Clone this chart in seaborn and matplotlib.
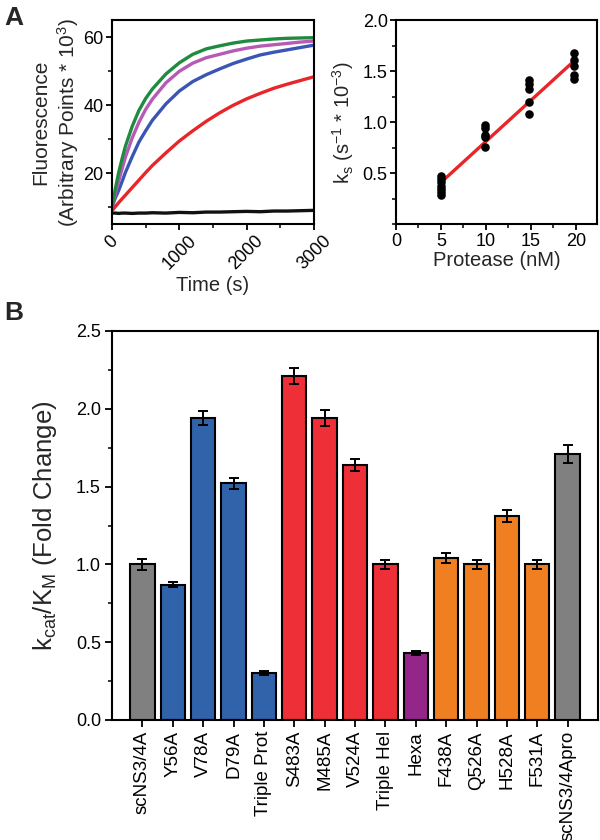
import numpy as np
import pandas as pd
import matplotlib
matplotlib.use("Agg")
import matplotlib.pyplot as plt
import seaborn as sns
from matplotlib.ticker import MultipleLocator

# ---------------- data ----------------
time_s = [0, 50, 100, 150, 200, 300, 400, 500, 600, 800, 1000, 1200, 1400,
          1600, 1800, 2000, 2200, 2400, 2600, 2800, 3000]
fluor_green = [10.2, 15.5, 20.3, 24.3, 28.0, 33.8, 38.5, 42.0, 44.8, 49.2, 52.5,
               55.0, 56.6, 57.5, 58.3, 58.9, 59.2, 59.5, 59.7, 59.8, 59.9]
fluor_purple = [10.0, 14.0, 17.8, 21.3, 24.8, 30.4, 35.0, 38.8, 41.8, 46.6, 50.0,
                52.4, 54.0, 55.0, 56.0, 56.8, 57.4, 57.8, 58.2, 58.6, 58.9]
fluor_blue = [10.0, 12.8, 15.0, 17.6, 20.3, 24.9, 29.2, 32.5, 35.6, 40.4, 44.2,
              47.0, 49.0, 50.7, 52.3, 53.6, 54.8, 55.6, 56.3, 57.0, 57.7]
fluor_red = [9.0, 10.2, 11.4, 12.5, 13.6, 15.8, 18.0, 20.2, 22.3, 26.0, 29.5,
             32.5, 35.3, 37.8, 40.0, 41.9, 43.5, 45.0, 46.2, 47.3, 48.4]
fluor_black = [8.3, 8.3, 8.2, 8.3, 8.3, 8.2, 8.3, 8.3, 8.4, 8.3, 8.5,
               8.4, 8.6, 8.6, 8.7, 8.8, 8.7, 8.9, 8.9, 9.0, 9.1]
curve_names = ["black", "red", "blue", "purple", "green"]
curve_colors = ["#111111", "#E8262A", "#3B55B5", "#B55AB5", "#1F8A40"]

protease_nM = [5]*7 + [9.9]*5 + [14.8]*5 + [19.8]*5
ks_values = [0.47, 0.44, 0.41, 0.38, 0.35, 0.32, 0.29,
             0.97, 0.94, 0.88, 0.86, 0.76,
             1.41, 1.38, 1.33, 1.20, 1.08,
             1.68, 1.61, 1.55, 1.46, 1.42]
fit_x = [5, 19.8]
fit_y = [0.41, 1.60]

mutants = ["scNS3/4A", "Y56A", "V78A", "D79A", "Triple Prot", "S483A", "M485A",
           "V524A", "Triple Hel", "Hexa", "F438A", "Q526A", "H528A", "F531A",
           "scNS3/4Apro"]
fold_change = [1.00, 0.87, 1.94, 1.52, 0.30, 2.21, 1.94, 1.64, 1.00, 0.43,
               1.04, 1.00, 1.31, 1.00, 1.71]
fold_err = [0.033, 0.015, 0.045, 0.034, 0.012, 0.05, 0.05, 0.04, 0.027, 0.012,
            0.033, 0.03, 0.04, 0.03, 0.058]
bar_colors = ["#808080", "#3163AB", "#3163AB", "#3163AB", "#3163AB",
              "#EE2F37", "#EE2F37", "#EE2F37", "#EE2F37", "#952689",
              "#F07F22", "#F07F22", "#F07F22", "#F07F22", "#808080"]

# ---------------- style ----------------
sns.set_style("ticks")
plt.rcParams["font.family"] = ["Liberation Sans", "DejaVu Sans"]
plt.rcParams["mathtext.fontset"] = "custom"
plt.rcParams["mathtext.rm"] = "Liberation Sans"
plt.rcParams["mathtext.it"] = "Liberation Sans:italic"
plt.rcParams["mathtext.bf"] = "Liberation Sans:bold"
plt.rcParams["axes.linewidth"] = 1.5
plt.rcParams["xtick.major.width"] = 1.3
plt.rcParams["ytick.major.width"] = 1.3
plt.rcParams["xtick.minor.width"] = 1.1
plt.rcParams["ytick.minor.width"] = 1.1
plt.rcParams["xtick.color"] = "black"
plt.rcParams["ytick.color"] = "black"
plt.rcParams["axes.edgecolor"] = "black"

fig = plt.figure(figsize=(6, 8.4), dpi=100)

# ---------------- panel A left ----------------
axL = fig.add_axes([112/600, 1-224.3/840, 202/600, 204/840])
long = []
for name, vals in zip(curve_names, [fluor_black, fluor_red, fluor_blue, fluor_purple, fluor_green]):
    for t, v in zip(time_s, vals):
        long.append({"time": t, "fluor": v, "curve": name})
dfc = pd.DataFrame(long)
sns.lineplot(data=dfc, x="time", y="fluor", hue="curve", hue_order=curve_names,
             palette=curve_colors, linewidth=2.4, legend=False, ax=axL)
axL.set_xlim(0, 3000)
axL.set_ylim(5, 65)
axL.xaxis.set_major_locator(MultipleLocator(1000))
axL.xaxis.set_minor_locator(MultipleLocator(500))
axL.yaxis.set_major_locator(MultipleLocator(20))
axL.yaxis.set_minor_locator(MultipleLocator(10))
axL.tick_params(which="both", direction="out", labelsize=13, pad=2)
axL.tick_params(which="major", length=4)
axL.tick_params(which="minor", length=3)
for lab in axL.get_xticklabels():
    lab.set_rotation(45)
    lab.set_ha("center")
axL.set_xlabel("Time (s)", fontsize=14.5, labelpad=2)
axL.set_ylabel("Fluorescence\n(Arbitrary Points * 10$^{3}$)", fontsize=15,
               labelpad=2, linespacing=1.25)
for s in axL.spines.values():
    s.set_visible(True)

# ---------------- panel A right ----------------
axR = fig.add_axes([396/600, 1-224.3/840, 201.3/600, 204/840])
dfs = pd.DataFrame({"protease": protease_nM, "ks": ks_values})
sns.lineplot(x=fit_x, y=fit_y, color="#E8262A", linewidth=2.4, ax=axR)
sns.scatterplot(data=dfs, x="protease", y="ks", color="black", s=38,
                edgecolor="black", linewidth=0, ax=axR, zorder=3)
axR.set_xlim(0, 22.4)
axR.set_ylim(0, 2.0)
axR.set_xticks([0, 5, 10, 15, 20])
axR.xaxis.set_minor_locator(MultipleLocator(2.5))
axR.set_yticks([0.5, 1.0, 1.5, 2.0])
axR.yaxis.set_minor_locator(MultipleLocator(0.25))
axR.tick_params(which="both", direction="out", labelsize=13, pad=2)
axR.tick_params(which="major", length=4)
axR.tick_params(which="minor", length=3)
axR.set_xlabel("Protease (nM)", fontsize=14.5, labelpad=1)
axR.set_ylabel("k$_{\\mathrm{s}}$ (s$^{-1}$ * 10$^{-3}$)", fontsize=14.5, labelpad=5)

# ---------------- panel B ----------------
axB = fig.add_axes([112/600, 1-720/840, 486/600, 389/840])
dfb = pd.DataFrame({"mutant": mutants, "value": fold_change, "err": fold_err})
sns.barplot(data=dfb, x="mutant", y="value", hue="mutant", palette=bar_colors,
            legend=False, width=0.8, edgecolor="black", linewidth=1.5,
            errorbar=None, saturation=1, ax=axB)
axB.errorbar(x=np.arange(len(mutants)), y=dfb["value"], yerr=dfb["err"],
             fmt="none", ecolor="black", elinewidth=1.4, capsize=3.5,
             capthick=1.4, zorder=4)
axB.set_xlim(-1, len(mutants))
axB.set_ylim(0, 2.5)
axB.yaxis.set_major_locator(MultipleLocator(0.5))
axB.yaxis.set_minor_locator(MultipleLocator(0.25))
axB.tick_params(which="both", direction="out")
axB.tick_params(axis="x", which="major", length=5, pad=3, labelsize=13.5)
axB.tick_params(axis="y", which="major", length=5, pad=3, labelsize=13)
axB.tick_params(axis="y", which="minor", length=3)
axB.tick_params(axis="x", labelrotation=90)
axB.set_xlabel("")
axB.set_ylabel("k$_{\\mathrm{cat}}$/K$_{\\mathrm{M}}$ (Fold Change)", fontsize=18.5,
               labelpad=12)
axB.yaxis.set_major_formatter(matplotlib.ticker.FormatStrFormatter("%.1f"))

fig.text(4/600, 1-6/840, "A", fontsize=19, fontweight="bold", va="top", ha="left")
fig.text(4/600, 1-301/840, "B", fontsize=19, fontweight="bold", va="top", ha="left")

fig.savefig("out.png", dpi=100)
